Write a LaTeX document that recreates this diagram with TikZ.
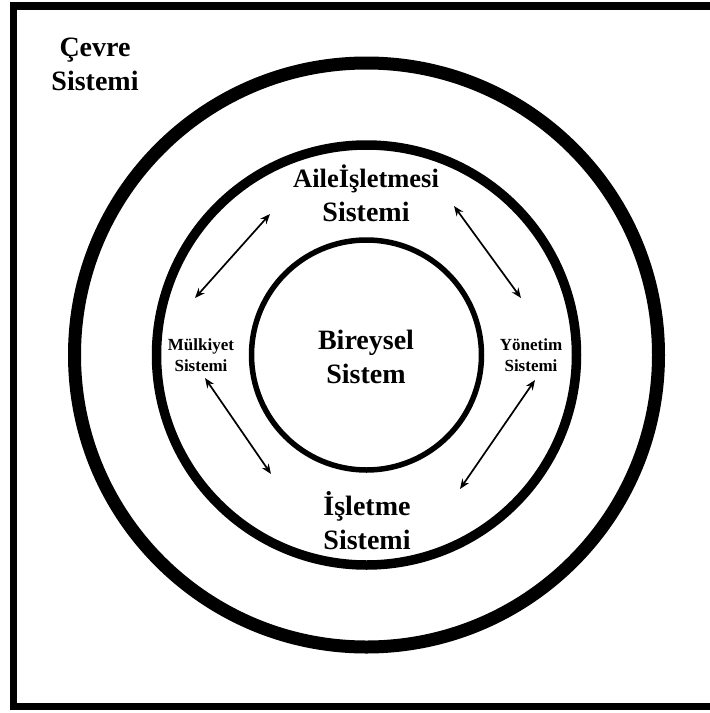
\documentclass[tikz,border=0pt]{standalone}
\usepackage{fontspec}
\setmainfont{Liberation Serif}
\usetikzlibrary{arrows.meta}
\tikzset{
  lbl/.style={font=\bfseries\fontsize{28}{34}\selectfont, align=center, inner sep=0pt},
  smalllbl/.style={font=\bfseries\fontsize{17}{21}\selectfont, align=center, inner sep=0pt},
  ring/.style={draw=black},
  dblarrow/.style={line width=1.7pt, {Stealth[length=10pt,width=8pt]}-{Stealth[length=10pt,width=8pt]}}
}
\begin{document}
\begin{tikzpicture}[x=1pt,y=-1pt]
\useasboundingbox (0,0) rectangle (710,713);
\fill[white] (0,0) rectangle (710,713);
% frame (right side falls outside the picture)
\draw[line width=7.5pt] (716,6) -- (13.5,6) -- (13.5,706.5) -- (716,706.5);
\coordinate (c) at (366.5,355);
\draw[ring, line width=13pt] (c) circle (292);
\draw[ring, line width=9.5pt] (c) circle (210);
\draw[ring, line width=5.5pt] (c) circle (115);
% labels
\node[lbl] (cevre) at (95,64) {Çevre\\Sistemi};
\node[lbl] (aile) at (366,193) {\fontsize{26.5}{34}\selectfont Aileİşletmesi\\Sistemi};
\node[lbl] (birey) at (366,357) {Bireysel\\Sistem};
\node[lbl] (isletme) at (367,521) {İşletme\\Sistemi};
\node[smalllbl] (mulk) at (201,355) {Mülkiyet\\Sistemi};
\node[smalllbl] (yon) at (531,355) {Yönetim\\Sistemi};
% arrows
\coordinate (a1s) at (195,298); \coordinate (a1e) at (270,214);
\coordinate (a2s) at (454,206); \coordinate (a2e) at (521,298);
\coordinate (a3s) at (205,378); \coordinate (a3e) at (271,474);
\coordinate (a4s) at (535,380); \coordinate (a4e) at (460,489);
\draw[dblarrow] (a1s) -- (a1e);
\draw[dblarrow] (a2s) -- (a2e);
\draw[dblarrow] (a3s) -- (a3e);
\draw[dblarrow] (a4s) -- (a4e);
\end{tikzpicture}
\end{document}
